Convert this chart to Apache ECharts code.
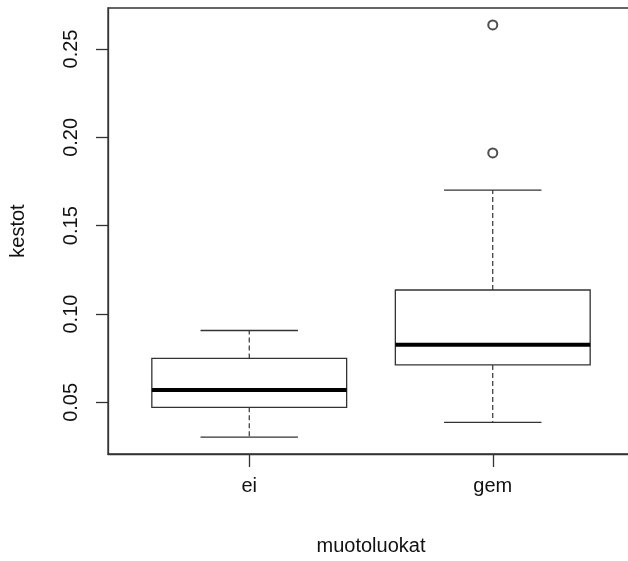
<!DOCTYPE html>
<html>
<head>
<meta charset="utf-8">
<script src="https://cdn.jsdelivr.net/npm/echarts@6/dist/echarts.min.js"></script>
<style>
  html, body { margin: 0; padding: 0; background: #fff; }
  #chart { width: 628px; height: 561px; }
</style>
</head>
<body>
<div id="chart"></div>
<script>
// boxplot statistics per group
var categories = ['ei', 'gem'];
var whiskerLow = [0.0304, 0.0387];
var q1 = [0.0472, 0.0712];
var median = [0.0570, 0.0826];
var q3 = [0.0749, 0.1136];
var whiskerHigh = [0.0907, 0.1701];
var outlierGroup = ['gem', 'gem'];
var outlierValue = [0.1912, 0.2636];
var yTicks = [0.05, 0.10, 0.15, 0.20, 0.25];

var boxData = [];
categories.forEach(function (c, i) {
    boxData.push([i + 1, whiskerLow[i], q1[i], median[i], q3[i], whiskerHigh[i]]);
});
var outlierData = [];
outlierValue.forEach(function (v, i) {
    outlierData.push([categories.indexOf(outlierGroup[i]) + 1, v]);
});

var lineColor = '#333';

function renderBox(params, api) {
    var x = api.value(0);
    var cx = api.coord([x, 0])[0];
    var yLow = api.coord([x, api.value(1)])[1];
    var yQ1 = api.coord([x, api.value(2)])[1];
    var yMed = api.coord([x, api.value(3)])[1];
    var yQ3 = api.coord([x, api.value(4)])[1];
    var yHigh = api.coord([x, api.value(5)])[1];
    var half = api.size([0.8, 0])[0] / 2;
    var cap = half / 2;
    return {
        type: 'group',
        children: [
            {type: 'line', shape: {x1: cx, y1: yQ3, x2: cx, y2: yHigh},
                style: {stroke: '#222', lineWidth: 1.1, lineDash: [5, 3]}},
            {type: 'line', shape: {x1: cx, y1: yQ1, x2: cx, y2: yLow},
                style: {stroke: '#222', lineWidth: 1.1, lineDash: [5, 3]}},
            {type: 'line', shape: {x1: cx - cap, y1: yHigh, x2: cx + cap, y2: yHigh},
                style: {stroke: lineColor, lineWidth: 1.3}},
            {type: 'line', shape: {x1: cx - cap, y1: yLow, x2: cx + cap, y2: yLow},
                style: {stroke: lineColor, lineWidth: 1.3}},
            {type: 'rect', shape: {x: cx - half, y: yQ3, width: half * 2, height: yQ1 - yQ3},
                style: {fill: '#fff', stroke: lineColor, lineWidth: 1.3}},
            {type: 'line', shape: {x1: cx - half, y1: yMed, x2: cx + half, y2: yMed},
                style: {stroke: '#000', lineWidth: 4}}
        ]
    };
}

var myChart = echarts.init(document.getElementById('chart'));

var option = {
    animation: false,
    textStyle: {fontFamily: 'Liberation Sans, Arial, sans-serif'},
    grid: {
        left: 108, top: 8, width: 526, height: 446,
        show: true, borderColor: lineColor, borderWidth: 1.3,
        backgroundColor: 'transparent',
        outerBoundsMode: 'none'
    },
    xAxis: {
        type: 'value',
        min: 0.42,
        max: 2.58,
        name: 'muotoluokat',
        nameLocation: 'middle',
        nameGap: 82,
        nameTextStyle: {fontSize: 20, color: '#111'},
        axisLine: {show: true, lineStyle: {color: lineColor, width: 1.3}},
        axisTick: {show: true, length: 13, customValues: [1, 2], lineStyle: {color: lineColor, width: 1.3}},
        axisLabel: {
            customValues: [1, 2],
            fontSize: 20, color: '#111', margin: 22,
            formatter: function (v) { return categories[Math.round(v) - 1]; }
        },
        splitLine: {show: false}
    },
    yAxis: {
        type: 'value',
        min: 0.0208,
        max: 0.2732,
        name: 'kestot',
        nameLocation: 'middle',
        nameGap: 80,
        nameRotate: 90,
        nameTextStyle: {fontSize: 20, color: '#111'},
        axisLine: {show: true, lineStyle: {color: lineColor, width: 1.3}},
        axisTick: {show: true, length: 12, customValues: yTicks, lineStyle: {color: lineColor, width: 1.3}},
        axisLabel: {
            customValues: yTicks,
            rotate: 90,
            fontSize: 20, color: '#111', margin: 27,
            formatter: function (v) { return v.toFixed(2); }
        },
        splitLine: {show: false}
    },
    series: [
        {
            name: 'box',
            type: 'custom',
            renderItem: renderBox,
            encode: {x: 0, y: [1, 2, 3, 4, 5]},
            data: boxData
        },
        {
            name: 'outliers',
            type: 'scatter',
            symbol: 'emptyCircle',
            symbolSize: 9,
            itemStyle: {color: '#222', borderColor: '#222', borderWidth: 1},
            data: outlierData
        }
    ]
};

if (option && typeof option === "object") {
    myChart.setOption(option, true);
}
</script>
</body>
</html>
